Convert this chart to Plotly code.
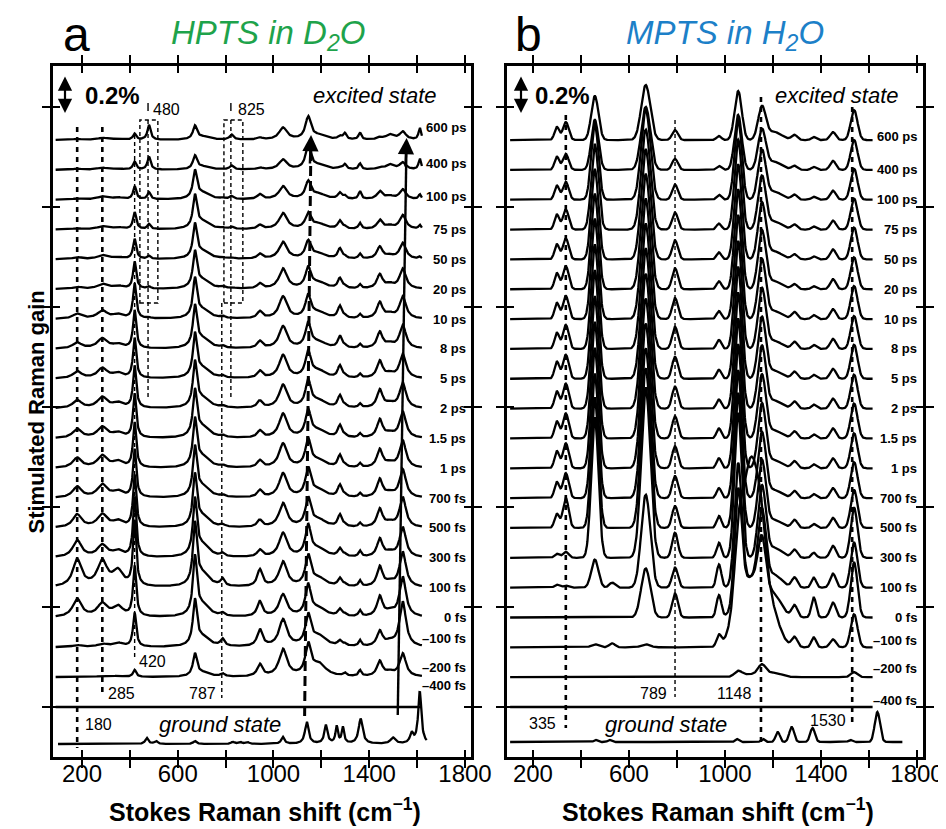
import numpy as np
import plotly.graph_objects as go

# ---------------- data ----------------
# y unit: 1 unit = 0.2 % / 38  (the "0.2 %" scale bar is 38 units tall)
delays = ["600 ps", "400 ps", "100 ps", "75 ps", "50 ps", "20 ps", "10 ps", "8 ps", "5 ps",
          "2 ps", "1.5 ps", "1 ps", "700 fs", "500 fs", "300 fs", "100 fs", "0 fs",
          "–100 fs", "–200 fs", "–400 fs"]

# Panel a: HPTS in D2O, excited-state bands (centre cm-1, half width cm-1)
a_centers = [180, 285, 350, 420, 480, 672, 705, 787, 825, 943, 1040, 1145, 1190, 1277, 1298, 1361, 1444, 1486, 1540, 1611]
a_widths = [22, 25, 25, 8, 8, 10, 35, 10, 10, 13, 20, 14, 35, 10, 8, 7, 14, 20, 16, 6]
# amplitude of each band for each delay (same order as delays)
a_amps = [
    [1, 1, 1, 1, 2, 2, 5, 6, 7, 8, 9, 10, 11, 13, 17, 27, 18, 2, 1, 0],
    [2, 2, 3, 3, 4, 5, 8, 10, 10, 11, 11, 12, 13, 13, 12, 25, 13, 3, 1, 0],
    [1, 1, 2, 2, 2, 3, 4, 4, 5, 5, 5, 6, 6, 6, 6, 15, 10, 4, 1, 0],
    [6, 8, 13, 17, 20, 27, 35, 38, 40, 42, 44, 45, 48, 52, 60, 65, 50, 34, 7, 0],
    [15, 13, 7, 5, 3, 2, 1, 0, 0, 0, 0, 0, 0, 0, 0, 0, 0, 0, 0, 0],
    [13, 13, 27, 32, 33, 35, 38, 40, 42, 44, 45, 46, 48, 50, 55, 60, 57, 44, 22, 0],
    [3, 3, 6, 7, 7, 8, 8, 9, 9, 9, 10, 10, 10, 10, 11, 12, 11, 9, 4, 0],
    [0, 0, 1, 1, 1, 2, 2, 2, 2, 2, 2, 2, 2, 2, 3, 7, 3, 7, 3, 0],
    [5, 4, 3, 2, 1, 1, 0, 0, 0, 0, 0, 0, 0, 0, 0, 0, 0, 0, 0, 0],
    [2, 2, 5, 4, 5, 5, 7, 7, 7, 7, 7, 7, 7, 7, 7, 17, 15, 17, 12, 0],
    [12, 10, 13, 16, 17, 20, 22, 22, 23, 23, 24, 24, 24, 24, 24, 25, 22, 27, 27, 0],
    [22, 22, 17, 15, 17, 20, 22, 24, 25, 26, 26, 27, 28, 28, 30, 30, 30, 30, 30, 0],
    [4, 4, 5, 5, 5, 6, 6, 6, 7, 7, 7, 7, 7, 7, 8, 8, 8, 10, 12, 0],
    [3, 2, 6, 8, 10, 10, 12, 12, 12, 12, 12, 12, 12, 12, 8, 8, 7, 5, 0, 0],
    [6, 5, 3, 2, 2, 2, 2, 2, 2, 2, 2, 2, 2, 2, 2, 2, 2, 2, 3, 0],
    [7, 6, 8, 6, 5, 4, 4, 4, 4, 4, 4, 4, 4, 4, 6, 6, 6, 6, 6, 0],
    [2, 2, 8, 9, 12, 14, 16, 16, 17, 18, 18, 18, 18, 18, 18, 20, 20, 15, 15, 0],
    [5, 5, 3, 3, 3, 4, 4, 4, 4, 4, 4, 4, 4, 4, 4, 4, 4, 4, 4, 0],
    [8, 7, 10, 14, 16, 20, 22, 23, 24, 25, 26, 27, 28, 30, 30, 35, 40, 45, 23, 0],
    [12, 11, 5, 4, 2, 0, 0, 0, 0, 0, 0, 0, 0, 0, 0, 0, 0, 0, 0, 0],
]
# Panel a ground state
ga_centers = [471, 509, 672, 830, 860, 890, 1039, 1139, 1219, 1264, 1290, 1364, 1499, 1577, 1611]
ga_widths = [8, 8, 8, 8, 8, 8, 8, 9, 8, 6, 6, 10, 12, 8, 8]
ga_amps = [6, 3, 3, 2, 2, 2, 7, 22, 18, 17, 16, 25, 6, 10, 52]

# Panel b: MPTS in H2O, excited-state bands (centre cm-1, Gaussian sigma cm-1)
b_centers = [300, 337, 458, 530, 670, 792, 975, 1055, 1110, 1154, 1205, 1290, 1370, 1450, 1538]
b_sigmas = [10, 12, 15, 12, 19, 12, 10, 15, 45, 16, 32, 12, 10, 12, 14]
b_amps = [
    [13, 13, 14, 15, 15, 16, 16, 16, 17, 17, 17, 17, 16, 14, 4, 3, 0, 0, 0, 0],
    [18, 16, 18, 20, 21, 23, 23, 24, 24, 25, 25, 25, 25, 30, 6, 2, 0, 0, 0, 0],
    [44, 50, 75, 85, 90, 95, 100, 104, 108, 112, 116, 120, 124, 130, 140, 28, 0, 3, 0, 0],
    [0, 0, 0, 0, 0, 0, 0, 0, 0, 0, 0, 0, 0, 0, 0, 5, 0, 4, 0, 0],
    [55, 63, 90, 100, 110, 115, 120, 125, 130, 135, 140, 145, 150, 160, 170, 93, 49, 3, 0, 0],
    [10, 11, 15, 17, 19, 21, 21, 22, 22, 22, 22, 22, 22, 22, 25, 20, 24, 0, 0, 0],
    [4, 4, 5, 6, 7, 8, 8, 9, 9, 9, 10, 10, 10, 12, 15, 23, 22, 11, 0, 0],
    [49, 55, 80, 90, 95, 100, 104, 108, 112, 116, 120, 124, 128, 135, 145, 120, 110, 40, 5, 0],
    [0, 0, 0, 0, 0, 0, 0, 0, 0, 0, 0, 0, 0, 0, 0, 10, 40, 190, 3, 0],
    [32, 39, 48, 52, 55, 57, 58, 59, 60, 61, 62, 63, 64, 66, 70, 70, 52, 20, 10, 0],
    [8, 8, 8, 8, 8, 8, 8, 8, 8, 8, 8, 8, 8, 8, 10, 12, 20, 20, 4, 0],
    [5, 4, 5, 5, 5, 5, 7, 7, 7, 7, 7, 7, 7, 8, 8, 10, 12, 10, 0, 0],
    [3, 3, 3, 3, 3, 3, 4, 4, 4, 4, 4, 4, 4, 4, 5, 10, 20, 10, 0, 0],
    [8, 9, 9, 9, 10, 10, 10, 10, 10, 10, 10, 10, 10, 10, 12, 14, 15, 8, 0, 0],
    [30, 30, 31, 31, 32, 32, 33, 33, 34, 34, 35, 35, 36, 38, 50, 45, 55, 33, 5, 0],
]
# Panel b ground state
gb_centers = [462, 520, 1050, 1158, 1220, 1278, 1365, 1523, 1635]
gb_sigmas = [8, 8, 8, 8, 9, 10, 10, 8, 11]
gb_amps = [2, 2, 3, 3, 10, 15, 14, 2, 30]

# band markers
a_marks = {"180": 180, "285": 285, "420": 420, "480": 480, "787": 787, "825": 825}
b_marks = {"335": 337, "789": 792, "1148": 1150, "1530": 1530}
tick_vals = [200, 400, 600, 800, 1000, 1200, 1400, 1600, 1800]
tick_text = ["200", "", "600", "", "1000", "", "1400", "", "1800"]

# ---------------- layout constants ----------------
W, H = 946, 829
PAGE = 8                    # the page body margin shifts the figure by this much
TOP, BOT = 66, 757          # frame in (screen) pixels
A_L, A_R = 53, 471
B_L, B_R = 507, 923
YR = BOT - TOP              # y range in units (1 unit per pixel)
STEP = 29.84
BASE = 50                   # offset of the -400 fs trace
FONT = "Liberation Sans, Arial, Helvetica, sans-serif"


def yu(px):                 # screen row -> y unit
    return BOT - px


def px_x(px):               # screen column -> paper
    return (px - PAGE) / W


def px_y(px):
    return (H - (px - PAGE)) / H


def lor(x, c, w):
    return 1.0 / (1.0 + ((x - c) / w) ** 2)


def gau(x, c, s):
    return np.exp(-0.5 * ((x - c) / s) ** 2)


def spectrum(x, centers, widths, amps, shape):
    y = np.zeros_like(x, dtype=float)
    for c, w, a in zip(centers, widths, amps):
        y += a * shape(x, c, w)
    return y


fig = go.Figure()
line = dict(color="black", width=2.3)

xa = np.arange(90, 1621, 2.0)
xb = np.arange(105, 1616, 2.0)
n = len(delays)
for i in range(n):
    off = BASE + (n - 1 - i) * STEP
    ya = off + spectrum(xa, a_centers, a_widths, [row[i] for row in a_amps], lor)
    fig.add_trace(go.Scatter(x=xa, y=ya, mode="lines", line=line, xaxis="x", yaxis="y", hoverinfo="skip"))
    yb = off + spectrum(xb, b_centers, b_sigmas, [row[i] for row in b_amps], gau)
    fig.add_trace(go.Scatter(x=xb, y=yb, mode="lines", line=line, xaxis="x2", yaxis="y2", hoverinfo="skip"))

xga = np.arange(100, 1641, 2.0)
xgb = np.arange(105, 1741, 2.0)
fig.add_trace(go.Scatter(x=xga, y=13 + spectrum(xga, ga_centers, ga_widths, ga_amps, lor), mode="lines",
                         line=line, xaxis="x", yaxis="y", hoverinfo="skip"))
fig.add_trace(go.Scatter(x=xgb, y=15 + spectrum(xgb, gb_centers, gb_sigmas, gb_amps, gau), mode="lines",
                         line=line, xaxis="x2", yaxis="y2", hoverinfo="skip"))

# ---------------- axes ----------------
ydom = [px_y(BOT), px_y(TOP)]
ytick = [BASE + 100 * k for k in range(7)]
common_x = dict(tickvals=tick_vals, showgrid=False, zeroline=False, tickwidth=2.2, tickcolor="black",
                automargin=False)
common_y = dict(range=[0, YR], tickvals=ytick, showticklabels=False, showgrid=False, zeroline=False,
                tickwidth=2.2, tickcolor="black", automargin=False)
tickfont = dict(family=FONT, size=24, color="black")
fig.update_layout(
    xaxis=dict(domain=[px_x(A_L), px_x(A_R)], range=[79, 1825], anchor="y", ticktext=tick_text,
               ticks="outside", ticklen=8, mirror="ticks", showline=True, linewidth=2.5, linecolor="black",
               tickfont=tickfont, ticklabelstandoff=-15, **common_x),
    yaxis=dict(domain=ydom, anchor="x", ticks="outside", ticklen=8, mirror="ticks", showline=True,
               linewidth=2.5, linecolor="black", **common_y),
    xaxis2=dict(domain=[px_x(B_L), px_x(B_R)], range=[92, 1825], anchor="y2", ticktext=tick_text,
                ticks="outside", ticklen=8, mirror="ticks", showline=True, linewidth=2.5, linecolor="black",
                tickfont=tickfont, ticklabelstandoff=-15, **common_x),
    yaxis2=dict(domain=ydom, anchor="x2", ticks="outside", ticklen=8, mirror="ticks", showline=True,
                linewidth=2.5, linecolor="black", **common_y),
    xaxis3=dict(overlaying="x", anchor="y", range=[79, 1825], ticks="inside", ticklen=7, mirror="ticks",
                showticklabels=False, showline=False, **common_x),
    yaxis3=dict(overlaying="y", anchor="x", ticks="inside", ticklen=7, mirror="ticks", showline=False, **common_y),
    xaxis4=dict(overlaying="x2", anchor="y2", range=[92, 1825], ticks="inside", ticklen=7, mirror="ticks",
                showticklabels=False, showline=False, **common_x),
    yaxis4=dict(overlaying="y2", anchor="x2", ticks="inside", ticklen=7, mirror="ticks", showline=False, **common_y),
)
# invisible traces so the overlay axes are drawn
fig.add_trace(go.Scatter(x=[1000], y=[100], mode="markers", marker=dict(opacity=0), xaxis="x3", yaxis="y3", hoverinfo="skip"))
fig.add_trace(go.Scatter(x=[1000], y=[100], mode="markers", marker=dict(opacity=0), xaxis="x4", yaxis="y4", hoverinfo="skip"))

# ---------------- shapes ----------------
shapes = []


def vline(xref, yref, x0, y0px, x1, y1px, width, dash):
    shapes.append(dict(type="line", xref=xref, yref=yref, x0=x0, x1=x1, y0=yu(y0px), y1=yu(y1px),
                       line=dict(color="black", width=width, dash=dash)))


thick = "5px,5px"
thin = "4px,3px"
# panel a
vline("x", "y", a_marks["180"], 127, a_marks["180"], 748, 2.6, thick)
vline("x", "y", a_marks["285"], 127, a_marks["285"], 697, 2.6, thick)
vline("x", "y", a_marks["420"], 135, a_marks["420"], 657, 1.4, thin)
vline("x", "y", a_marks["480"] - 4, 120, a_marks["480"] - 4, 398, 1.4, thin)
vline("x", "y", a_marks["825"] - 3, 120, a_marks["825"] - 3, 398, 1.4, thin)
vline("x", "y", a_marks["787"] - 3, 303, a_marks["787"] - 3, 698, 1.4, thin)
vline("x", "y", a_marks["480"] - 4, 103, a_marks["480"] - 4, 111, 1.4, "solid")
vline("x", "y", a_marks["825"] - 3, 103, a_marks["825"] - 3, 111, 1.4, "solid")
for x0, x1 in [(442, 517), (793, 872)]:
    shapes.append(dict(type="rect", xref="x", yref="y", x0=x0, x1=x1, y0=yu(303), y1=yu(120),
                       line=dict(color="black", width=1.4, dash=thin)))
# slanted arrows (band shifts)
vline("x", "y", 1130, 716, 1156, 150, 3, "10px,5px")
vline("x", "y", 1519, 715, 1555, 152, 2.4, "solid")
# panel b
vline("x2", "y2", b_marks["335"], 115, b_marks["335"], 728, 2.6, thick)
vline("x2", "y2", b_marks["789"], 120, b_marks["789"], 697, 1.4, thin)
vline("x2", "y2", b_marks["1148"], 97, b_marks["1148"], 743, 2.6, thick)
vline("x2", "y2", b_marks["1530"], 107, b_marks["1530"], 727, 2.6, thick)

# ---------------- annotations ----------------
ann = []


def text(xpx, ypx, s, size, anchor="left", color="black"):
    ann.append(dict(xref="paper", yref="paper", x=px_x(xpx), y=px_y(ypx), text=s, showarrow=False,
                    xanchor=anchor, yanchor="middle", font=dict(family=FONT, size=size, color=color)))


text(61, 34, "a", 48)
text(513, 34, "b", 48)
text(268, 35, "<i>HPTS in D<sub>2</sub>O</i>", 33, "center", "#1ea34b")
text(725, 35, "<i>MPTS in H<sub>2</sub>O</i>", 33, "center", "#1c80c8")
text(83, 96, "<b>0.2%</b>", 24)
text(533, 96, "<b>0.2%</b>", 24)
text(439, 96, "<i>excited state</i>", 22, "right")
text(901, 96, "<i>excited state</i>", 22, "right")
text(157, 724, "<i>ground state</i>", 22)
text(603, 724, "<i>ground state</i>", 22)
text(151, 109, "480", 16)
text(236, 109, "825", 16)
text(137, 661, "420", 16)
text(106, 693, "285", 16)
text(218, 693, "787", 16, "right")
text(83, 724, "180", 16)
text(558, 723, "335", 16, "right")
text(669, 693, "789", 16, "right")
text(754, 693, "1148", 16, "right")
text(848, 720, "1530", 16, "right")
text(265, 810, "<b>Stokes Raman shift (cm<sup>−1</sup>)</b>", 25, "center")
text(718, 810, "<b>Stokes Raman shift (cm<sup>−1</sup>)</b>", 25, "center")
ann.append(dict(xref="paper", yref="paper", x=px_x(22), y=px_y(412), text="<b>Stimulated Raman gain</b>",
                showarrow=False, textangle=-90, font=dict(family=FONT, size=22, color="black")))

# trace labels
a_nudge = {0: -13, 1: -6, 2: -3, 17: -9, 18: -10, 19: -22}
b_nudge = {0: -4, 17: -7, 18: -9, 19: -7}
for i, d in enumerate(delays):
    base_px = BOT - (BASE + (n - 1 - i) * STEP)
    text(468, base_px + a_nudge.get(i, 0), "<b>%s</b>" % d, 13, "right")
    text(919, base_px + b_nudge.get(i, 0), "<b>%s</b>" % d, 13, "right")

# scale bars (double arrows)
for xpx in (65, 521):
    ann.append(dict(xref="paper", yref="paper", x=px_x(xpx), y=px_y(113), ax=0, ay=-38, text="",
                    showarrow=True, arrowhead=2, arrowsize=1.3, arrowwidth=2.2, arrowside="end+start",
                    arrowcolor="black"))
# arrow heads on the slanted band-shift lines
for x0, y0, x1, y1 in [(1152, 165, 1157, 135), (1551, 168, 1556, 138)]:
    ann.append(dict(xref="x", yref="y", axref="x", ayref="y", x=x1, y=yu(y1), ax=x0, ay=yu(y0), text="",
                    showarrow=True, arrowhead=2, arrowsize=1.3, arrowwidth=2.5, arrowcolor="black"))

fig.update_layout(width=W, height=H, margin=dict(l=0, r=0, t=0, b=0, pad=0), showlegend=False,
                  plot_bgcolor="white", paper_bgcolor="white", shapes=shapes, annotations=ann,
                  font=dict(family=FONT, color="black"))
fig.write_html("out.html")
